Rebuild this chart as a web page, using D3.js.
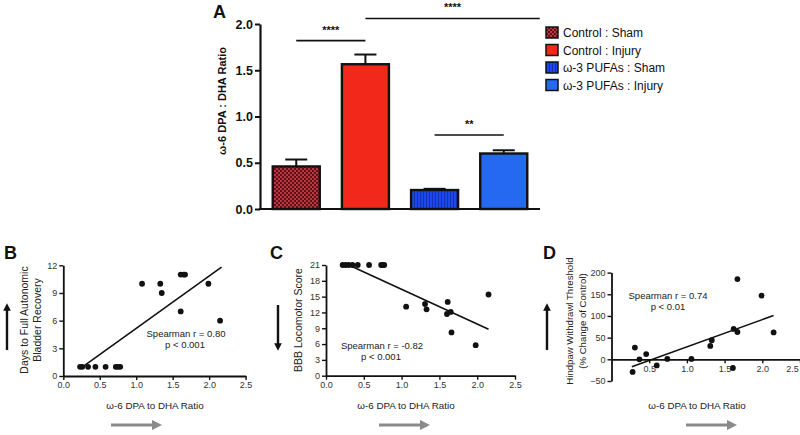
<!DOCTYPE html>
<html><head><meta charset="utf-8">
<script src="https://cdn.jsdelivr.net/npm/d3@7"></script>
<style>
html,body{margin:0;padding:0;background:#fff;}
svg{display:block;font-family:"Liberation Sans",Arial,Helvetica,sans-serif;}
</style></head>
<body>
<svg id="chart" width="800" height="435"></svg>
<script>
// ---------- Panel A data ----------
const barGroups = ["Control : Sham", "Control : Injury", "ω-3 PUFAs : Sham", "ω-3 PUFAs : Injury"];
const barMeans  = [0.46, 1.565, 0.205, 0.60];
const barErrors = [0.075, 0.105, 0.013, 0.035];
const barTicks  = [0.0, 0.5, 1.0, 1.5, 2.0];
const sigFrom   = [0, 1, 2];
const sigTo     = [1, 3.52, 3];
const sigLevel  = [1.82, 2.06, 0.80];
const sigLabel  = ["****", "****", "**"];

// ---------- Panel B data ----------
const ratioB = [0.23,0.26,0.34,0.44,0.58,0.72,0.75,0.78,1.08,1.33,1.35,1.61,1.65,1.67,1.61,1.99,2.15];
const daysB  = [1,1,1,1,1,1,1,1,10,10,9,11,11,11,7,10,6];
const fitBx  = [0.25, 2.17];
const fitBy  = [0.9, 11.8];
const ticksB = [0,3,6,9,12];

// ---------- Panel C data ----------
const ratioC = [0.22,0.26,0.30,0.35,0.42,0.57,0.73,0.75,0.77,1.06,1.31,1.33,1.61,1.60,1.65,1.66,1.98,2.15];
const bbbC   = [21,21,21,21,21,21,21,21,21,13.1,13.6,12.6,14.0,11.7,12.1,8.2,5.8,15.4];
const fitCx  = [0.30, 2.15];
const fitCy  = [21.0, 8.8];
const ticksC = [0,3,6,9,12,15,18,21];

// ---------- Panel D data ----------
const ratioD = [0.28,0.31,0.37,0.46,0.60,0.74,1.06,1.31,1.33,1.61,1.62,1.67,1.67,1.99,2.15];
const pawD   = [-29,27,0,12,-14,1,1,31,44,-20,70,63,185,147,62];
const fitDx  = [0.27, 2.15];
const fitDy  = [-17, 101];
const ticksD = [-50,0,50,100,150,200];

const ratioTicks = [0.0,0.5,1.0,1.5,2.0,2.5];

const svg = d3.select("#chart");
const defs = svg.append("defs");

// Patterns
const chk = defs.append("pattern").attr("id","checker").attr("width",4).attr("height",4).attr("patternUnits","userSpaceOnUse");
chk.append("rect").attr("width",4).attr("height",4).attr("fill","#5e1117");
chk.append("rect").attr("width",2).attr("height",2).attr("fill","#b8383f");
chk.append("rect").attr("x",2).attr("y",2).attr("width",2).attr("height",2).attr("fill","#b8383f");
const str = defs.append("pattern").attr("id","stripes").attr("width",3).attr("height",3).attr("patternUnits","userSpaceOnUse");
str.append("rect").attr("width",3).attr("height",3).attr("fill","#1f48ec");
str.append("rect").attr("width",1).attr("height",3).attr("fill","#1232b4");

// arrow markers
function marker(id, color){
  defs.append("marker").attr("id",id).attr("viewBox","0 0 10 10").attr("refX",5).attr("refY",5)
    .attr("markerWidth",3.2).attr("markerHeight",3.2).attr("orient","auto-start-reverse")
    .append("path").attr("d","M0,0 L10,5 L0,10 Z").attr("fill",color);
}
marker("blackArrow","#111");
marker("grayArrow","#8a8a8a");

const barFills = ["url(#checker)", "#f2281b", "url(#stripes)", "#2469f0"];

// ================= Panel A =================
const A = svg.append("g");
const xA = d3.scaleBand().domain(d3.range(barGroups.length)).range([260,540]).paddingInner(0.32).paddingOuter(0.184);
const yA = d3.scaleLinear().domain([0,2]).range([209,24]);
const idxX = d3.scaleLinear().domain([0,1]).range([xA(0)+xA.bandwidth()/2, xA(1)+xA.bandwidth()/2]);

A.selectAll(".bar").data(barMeans).join("rect")
  .attr("x",(d,i)=>xA(i)).attr("width",xA.bandwidth())
  .attr("y",d=>yA(d)).attr("height",d=>yA(0)-yA(d))
  .attr("fill",(d,i)=>barFills[i]).attr("stroke","#111").attr("stroke-width",2.4);
barMeans.forEach((m,i)=>{
  const cx = xA(i)+xA.bandwidth()/2;
  A.append("line").attr("x1",cx).attr("x2",cx).attr("y1",yA(m)).attr("y2",yA(m+barErrors[i])).attr("stroke","#111").attr("stroke-width",2);
  A.append("line").attr("x1",cx-11).attr("x2",cx+11).attr("y1",yA(m+barErrors[i])).attr("y2",yA(m+barErrors[i])).attr("stroke","#111").attr("stroke-width",2);
});
const axA = d3.axisLeft(yA).tickValues(barTicks).tickFormat(d3.format(".1f")).tickSize(5).tickSizeOuter(0);
const gA = A.append("g").attr("transform","translate(260,0)").call(axA);
gA.select(".domain").attr("stroke","#111").attr("stroke-width",2.2);
gA.selectAll(".tick line").attr("stroke","#111").attr("stroke-width",2);
gA.selectAll(".tick text").attr("font-size",12.5).attr("font-weight","bold").attr("fill","#111").attr("x",-7).attr("font-family","'Liberation Sans',Arial,sans-serif");
A.append("line").attr("x1",259).attr("x2",540).attr("y1",yA(0)).attr("y2",yA(0)).attr("stroke","#111").attr("stroke-width",2.2);
A.append("text").attr("transform","translate(226,101) rotate(-90)").attr("text-anchor","middle")
  .attr("font-size",11).attr("font-weight","bold").attr("fill","#111").text("ω-6 DPA : DHA Ratio");
A.append("text").attr("x",213).attr("y",18).attr("font-size",18).attr("font-weight","bold").attr("fill","#111").text("A");
sigLevel.forEach((lv,i)=>{
  const x1 = idxX(sigFrom[i]), x2 = idxX(sigTo[i]);
  A.append("line").attr("x1",x1).attr("x2",x2).attr("y1",yA(lv)).attr("y2",yA(lv)).attr("stroke","#111").attr("stroke-width",1.6);
  A.append("text").attr("x",(x1+x2)/2).attr("y",yA(lv)-7).attr("text-anchor","middle").attr("font-size",11).attr("font-weight","bold").attr("fill","#111").text(sigLabel[i]);
});
const leg = A.append("g").attr("transform","translate(546,27)");
barGroups.forEach((g,i)=>{
  leg.append("rect").attr("x",0).attr("y",i*17.5).attr("width",12).attr("height",11).attr("fill",barFills[i]).attr("stroke","#111").attr("stroke-width",1.5);
  leg.append("text").attr("x",17).attr("y",i*17.5+10).attr("font-size",12).attr("fill","#111").text(g);
});

// ================= scatter panels =================
function scatter(opt){
  const g = svg.append("g");
  const x = d3.scaleLinear().domain([0,2.5]).range([opt.x0,opt.x1]);
  const y = d3.scaleLinear().domain(opt.ydom).range([opt.yb,opt.yt]);
  const yAxis = d3.axisLeft(y).tickValues(opt.yticks).tickSize(4).tickSizeOuter(0);
  const gy = g.append("g").attr("transform",`translate(${opt.x0},0)`).call(yAxis);
  const xAxis = d3.axisBottom(x).tickValues(opt.xticks).tickFormat(d3.format(".1f")).tickSize(4).tickSizeOuter(0);
  const gx = g.append("g").attr("transform",`translate(0,${y(opt.xAt)})`).call(xAxis);
  [gx,gy].forEach(a=>{
    a.select(".domain").attr("stroke","#111").attr("stroke-width",1.8);
    a.selectAll(".tick line").attr("stroke","#111").attr("stroke-width",1.4);
    a.selectAll(".tick text").attr("font-size",9).attr("fill","#333").attr("font-family","'Liberation Sans',Arial,sans-serif");
  });
  gy.selectAll(".tick text").attr("x",-6);
  gx.selectAll(".tick text").attr("y",6);
  if (opt.lastShift) gx.selectAll(".tick text").filter(d=>d===2.5).attr("dx",opt.lastShift);
  g.append("line").attr("x1",x(opt.fx[0])).attr("y1",y(opt.fy[0])).attr("x2",x(opt.fx[1])).attr("y2",y(opt.fy[1]))
    .attr("stroke","#111").attr("stroke-width",1.6);
  g.selectAll("circle").data(opt.xs).join("circle").attr("cx",d=>x(d)).attr("cy",(d,i)=>y(opt.ys[i])).attr("r",2.9).attr("fill","#111");
  g.append("text").attr("x",opt.sx).attr("y",opt.sy).attr("text-anchor","middle").attr("font-size",9.5).attr("fill","#222").text(opt.s1);
  g.append("text").attr("x",opt.px).attr("y",opt.sy+11).attr("text-anchor","middle").attr("font-size",9.5).attr("fill","#222").text(opt.s2);
  opt.ytitle.forEach((t,i)=>{
    g.append("text").attr("transform",`translate(${opt.ytx[i]},${opt.yty}) rotate(-90)`).attr("text-anchor","middle")
      .attr("font-size",opt.ytfs).attr("fill","#222").text(t);
  });
  g.append("text").attr("x",opt.xtx).attr("y",409).attr("text-anchor","middle").attr("font-size",9.8).attr("fill","#222").text("ω-6 DPA to DHA Ratio");
  g.append("line").attr("x1",opt.ax).attr("x2",opt.ax).attr("y1",opt.up?350:305).attr("y2",opt.up?307:347)
    .attr("stroke","#111").attr("stroke-width",2.4).attr("marker-end","url(#blackArrow)");
  g.append("line").attr("x1",opt.gx0).attr("x2",opt.gx0+46).attr("y1",425).attr("y2",425)
    .attr("stroke","#8a8a8a").attr("stroke-width",3.2).attr("marker-end","url(#grayArrow)");
  g.append("text").attr("x",opt.lx).attr("y",259).attr("font-size",18).attr("font-weight","bold").attr("fill","#111").text(opt.letter);
}

scatter({x0:63.3,x1:245.6,ydom:[0,12],yb:376,yt:265.3,yticks:ticksB,xticks:ratioTicks,xAt:0,
  xs:ratioB,ys:daysB,fx:fitBx,fy:fitBy,sx:186,px:185,sy:337,s1:"Spearman r = 0.80",s2:"p < 0.001",
  ytitle:["Days to Full Autonomic","Bladder Recovery"],ytx:[28,41],yty:320,ytfs:10.5,xtx:155,ax:7,up:true,gx0:111,lx:4,letter:"B"});

scatter({x0:326,x1:515,ydom:[0,21],yb:375.7,yt:265,yticks:ticksC,xticks:ratioTicks,xAt:0,
  xs:ratioC,ys:bbbC,fx:fitCx,fy:fitCy,sx:382,px:381,sy:349,s1:"Spearman r = -0.82",s2:"p < 0.001",
  ytitle:["BBB Locomotor Score"],ytx:[302],yty:320,ytfs:10.5,xtx:406,ax:278,up:false,gx0:379,lx:270,letter:"C"});

scatter({x0:611.5,x1:800,ydom:[-50,200],yb:381,yt:272.6,yticks:ticksD,xticks:ratioTicks.slice(1),xAt:0,lastShift:-8,
  xs:ratioD,ys:pawD,fx:fitDx,fy:fitDy,sx:668,px:668,sy:298.5,s1:"Spearman r = 0.74",s2:"p < 0.01",
  ytitle:["Hindpaw Withdrawl Threshold","(% Change of Control)"],ytx:[573,586],yty:321,ytfs:9.6,xtx:697,ax:547,up:true,gx0:686,lx:543,letter:"D"});
</script>
</body></html>
